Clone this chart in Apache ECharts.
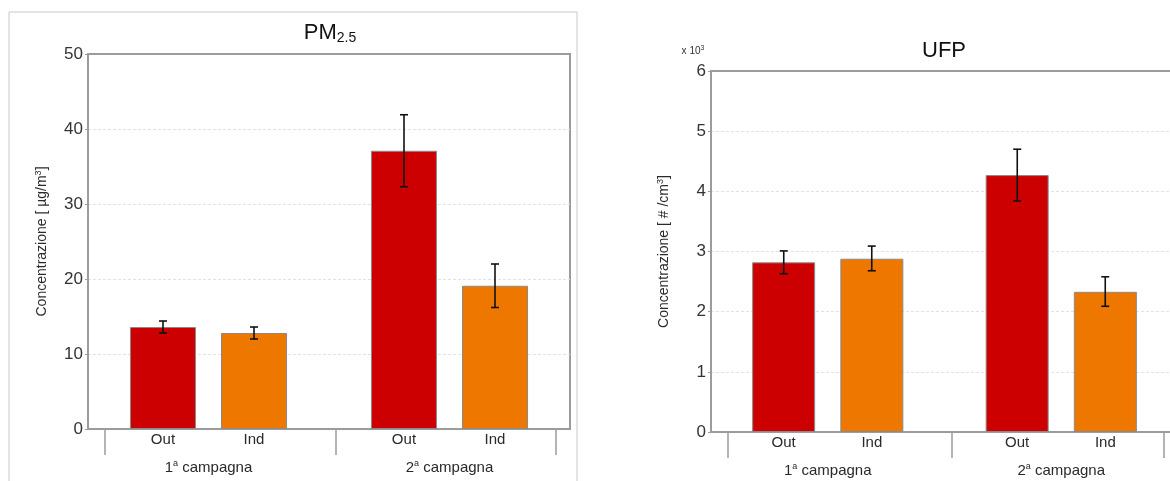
<!DOCTYPE html>
<html><head><meta charset="utf-8">
<script src="https://cdn.jsdelivr.net/npm/echarts@6/dist/echarts.min.js"></script>
<style>html,body{margin:0;padding:0;background:#fff;overflow:hidden;width:1170px;height:481px}#c{width:1185px;height:481px}</style>
</head><body><div id="c"></div>
<script>
// ---- data ----
const groups = ['1{sup|a} campagna', '2{sup|a} campagna'];
const seriesNames = ['Out', 'Ind'];
// PM2.5 (µg/m3)
const pmOut = [13.6, 37.1];
const pmInd = [12.8, 19.1];
const pmOutErr = [[12.8, 14.4], [32.3, 41.9]];
const pmIndErr = [[12.0, 13.6], [16.2, 22.0]];
const pmTicks = [0, 10, 20, 30, 40, 50];
// UFP (x10^3 #/cm3)
const ufpOut = [2.82, 4.27];
const ufpInd = [2.88, 2.33];
const ufpOutErr = [[2.63, 3.01], [3.84, 4.70]];
const ufpIndErr = [[2.68, 3.09], [2.09, 2.58]];
const ufpTicks = [0, 1, 2, 3, 4, 5, 6];

const FONT = '"Liberation Sans", Arial, sans-serif';
const AX = '#9c9c9c';
const TXT = '#2a2a2a';
const OUTC = '#cc0000', INDC = '#ee7700';

const chart = echarts.init(document.getElementById('c'));

function catAxis(gi) {
  return {
    type: 'category', gridIndex: gi, data: groups,
    axisLine: {lineStyle: {color: AX, width: 2}},
    axisTick: {show: false},
    axisLabel: {
      margin: 30, color: TXT, fontSize: 15, fontFamily: FONT,
      rich: {sup: {fontSize: 9, color: TXT, fontFamily: FONT, padding: [0, 0, 8, 0]}}
    }
  };
}
function tickAxis(gi) {
  return {
    type: 'value', gridIndex: gi, min: 0, max: 2, position: 'bottom',
    axisLine: {show: false}, splitLine: {show: false},
    axisLabel: {show: false},
    axisTick: {show: true, length: 26, lineStyle: {color: AX, width: 1.5}, customValues: [0.07, 1.03, 1.94]}
  };
}
function valAxis(gi, ticks, name, nameGap) {
  return {
    type: 'value', gridIndex: gi, min: ticks[0], max: ticks[ticks.length - 1],
    interval: ticks[1] - ticks[0],
    name: name, nameLocation: 'middle', nameGap: nameGap,
    nameTextStyle: {color: TXT, fontSize: 14, fontFamily: FONT,
      rich: {sup: {fontSize: 9, color: TXT, fontFamily: FONT, padding: [0, 0, 8, 0]}}},
    axisLine: {show: true, lineStyle: {color: AX, width: 2}},
    axisTick: {show: true, length: 3, lineStyle: {color: AX}},
    axisLabel: {color: '#333', fontSize: 17, fontFamily: FONT, margin: 5},
    splitLine: {show: true, showMinLine: false, showMaxLine: false,
      lineStyle: {color: '#e2e2e2', type: [3, 2]}}
  };
}
function barSeries(name, data, xi, yi, color, bw, gap) {
  return {
    type: 'bar', name: name, xAxisIndex: xi, yAxisIndex: yi, data: data,
    barWidth: bw, barGap: gap,
    itemStyle: {color: color, borderColor: '#8a8a8a', borderWidth: 1},
    label: {show: true, position: 'bottom', distance: 3, formatter: '{a}',
      color: TXT, fontSize: 15, fontFamily: FONT},
    z: 2
  };
}
function errSeries(errs, xi, yi, offset) {
  return {
    type: 'custom', xAxisIndex: xi, yAxisIndex: yi, z: 5,
    data: errs.map((e, i) => [i, e[0], e[1]]),
    renderItem: function (params, api) {
      const lo = api.coord([api.value(0), api.value(1)]);
      const hi = api.coord([api.value(0), api.value(2)]);
      const x = lo[0] + offset;
      const hw = 4;
      const st = {stroke: '#111', lineWidth: 1.6};
      return {type: 'group', children: [
        {type: 'line', shape: {x1: x, y1: lo[1], x2: x, y2: hi[1]}, style: st},
        {type: 'line', shape: {x1: x - hw, y1: lo[1], x2: x + hw, y2: lo[1]}, style: st},
        {type: 'line', shape: {x1: x - hw, y1: hi[1], x2: x + hw, y2: hi[1]}, style: st}
      ]};
    }
  };
}

const option = {
  animation: false,
  textStyle: {fontFamily: FONT},
  grid: [
    {left: 88, top: 54, width: 482, height: 375, show: true, borderColor: AX, borderWidth: 2, backgroundColor: 'transparent'},
    {left: 711, top: 71, width: 467, height: 361, show: true, borderColor: AX, borderWidth: 2, backgroundColor: 'transparent'}
  ],
  xAxis: [catAxis(0), tickAxis(0), catAxis(1), tickAxis(1)],
  yAxis: [
    valAxis(0, pmTicks, 'Concentrazione [ µg/m{sup|3}]', 37),
    valAxis(1, ufpTicks, 'Concentrazione [ # /cm{sup|3}]', 38)
  ],
  graphic: [
    {type: 'rect', shape: {x: 9, y: 12, width: 568, height: 490}, style: {fill: 'none', stroke: '#c8c8c8', lineWidth: 1}, z: -1},
    {type: 'text', x: 330, y: 33, style: {text: 'PM{sub|2.5}', align: 'center', verticalAlign: 'middle',
      fill: '#111', font: '22px ' + FONT,
      rich: {sub: {fontSize: 14, fill: '#111', fontFamily: FONT, padding: [10, 0, 0, 0]}}}},
    {type: 'text', x: 944, y: 51, style: {text: 'UFP', align: 'center', verticalAlign: 'middle',
      fill: '#111', font: '22px ' + FONT}},
    {type: 'text', x: 693, y: 51, style: {text: 'x 10{sup|3}', align: 'center', verticalAlign: 'middle',
      fill: '#333', font: '10px ' + FONT,
      rich: {sup: {fontSize: 7, fill: '#333', fontFamily: FONT, padding: [0, 0, 6, 0]}}}}
  ],
  series: [
    barSeries(seriesNames[0], pmOut, 0, 0, OUTC, 66, '38%'),
    barSeries(seriesNames[1], pmInd, 0, 0, INDC, 66, '38%'),
    errSeries(pmOutErr, 0, 0, -45.5),
    errSeries(pmIndErr, 0, 0, 45.5),
    barSeries(seriesNames[0], ufpOut, 2, 1, OUTC, 63, '40%'),
    barSeries(seriesNames[1], ufpInd, 2, 1, INDC, 63, '40%'),
    errSeries(ufpOutErr, 2, 1, -44),
    errSeries(ufpIndErr, 2, 1, 44)
  ]
};
chart.setOption(option);
</script>
</body></html>
